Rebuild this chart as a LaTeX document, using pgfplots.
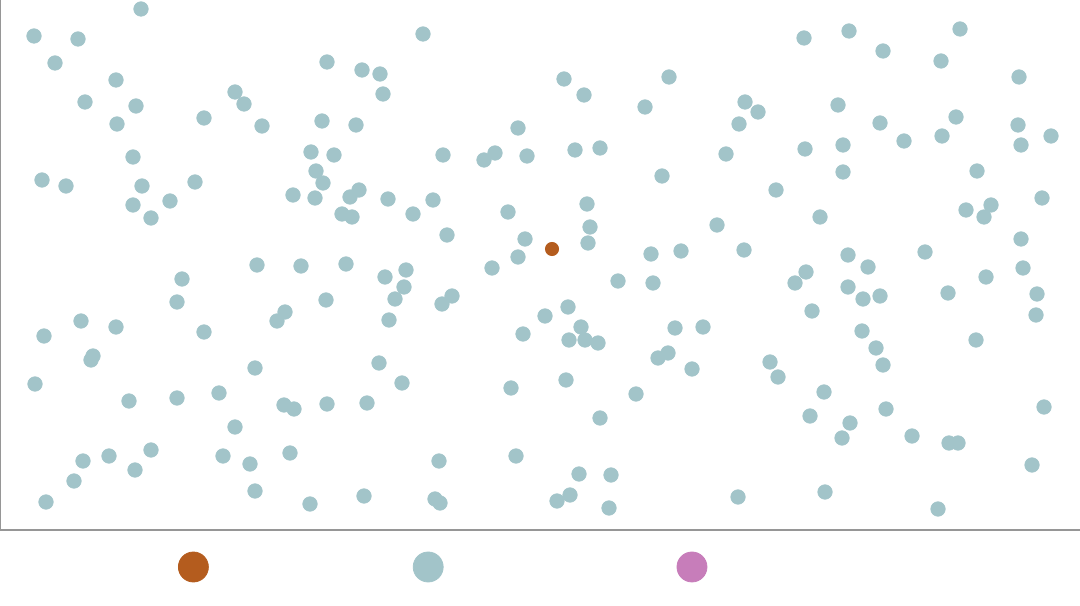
\documentclass[border=0pt]{standalone}
\usepackage{pgfplots}
\pgfplotsset{compat=1.18}
\usepackage{pgfplotstable}
\definecolor{bluec}{RGB}{162,196,201}
\definecolor{orangec}{RGB}{180,92,30}
\definecolor{pinkc}{RGB}{199,125,186}
\definecolor{axisc}{RGB}{150,150,150}
\pgfplotstableread{
x y
34 -36
78 -39
55 -63
141 -9
116 -80
85 -102
136 -106
117 -124
204 -118
235 -92
244 -104
262 -126
133 -157
42 -180
66 -186
142 -186
195 -182
133 -205
170 -201
151 -218
257 -265
44 -336
81 -321
116 -327
93 -356
91 -360
35 -384
129 -401
177 -398
219 -393
182 -279
177 -302
204 -332
255 -368
285 -312
277 -321
235 -427
223 -456
250 -464
255 -491
83 -461
109 -456
151 -450
135 -470
74 -481
46 -502
423 -34
327 -62
362 -70
380 -74
383 -94
322 -121
356 -125
518 -128
311 -152
334 -155
443 -155
484 -160
495 -153
527 -156
316 -171
323 -183
293 -195
315 -198
350 -197
359 -190
388 -199
433 -200
342 -214
352 -217
413 -214
508 -212
447 -235
525 -239
518 -257
301 -266
346 -264
406 -270
492 -268
385 -277
404 -287
395 -299
389 -320
326 -300
452 -296
442 -304
523 -334
379 -363
402 -383
511 -388
284 -405
294 -409
327 -404
367 -403
290 -453
439 -461
516 -456
310 -504
364 -496
435 -499
440 -503
564 -79
669 -77
584 -95
645 -107
745 -102
758 -112
739 -124
575 -150
600 -148
726 -154
662 -176
587 -204
776 -190
590 -227
588 -243
651 -254
681 -251
717 -225
744 -250
618 -281
653 -283
795 -283
545 -316
568 -307
581 -327
569 -340
585 -340
598 -343
675 -328
703 -327
658 -358
668 -353
692 -369
770 -362
778 -377
566 -380
636 -394
600 -418
579 -474
611 -475
570 -495
557 -501
609 -508
738 -497
849 -31
960 -29
804 -38
883 -51
941 -61
1019 -77
838 -105
880 -123
956 -117
904 -141
942 -136
1018 -125
1051 -136
1021 -145
805 -149
843 -145
843 -172
977 -171
1042 -198
966 -210
991 -205
984 -217
820 -217
1021 -239
925 -252
848 -255
868 -267
806 -272
848 -287
863 -299
880 -296
812 -311
1023 -268
986 -277
948 -293
1037 -294
1036 -315
862 -331
876 -348
883 -365
976 -340
824 -392
810 -416
850 -423
842 -438
886 -409
912 -436
949 -443
958 -443
1044 -407
1032 -465
825 -492
938 -509
}\others
\pgfplotstableread{
x y
552 -249
}\highlight
\begin{document}
\begin{tikzpicture}
\begin{axis}[
  at={(0,0)}, anchor=south west,
  width=540pt, height=265pt, scale only axis,
  xmin=0, xmax=1080, ymin=-530, ymax=0,
  axis x line=bottom, axis y line=left,
  axis line style={-, draw=axisc, line width=0.8pt},
  xtick=\empty, ytick=\empty,
  clip=false,
  legend columns=3,
  legend style={at={(0.1648,-0.0698)}, anchor=west, draw=none, fill=none,
    inner sep=0pt, outer sep=0pt, text=white,
    /tikz/every even column/.append style={column sep=10pt}},
  legend image code/.code={\fill[#1] (8.5pt,0pt) circle (7.5pt);},
]
\addplot[only marks, mark=*, color=orangec, mark size=3.3pt, mark options={draw=orangec, fill=orangec}] table {\highlight};
\addlegendentry{\makebox[88pt][l]{Selected}}
\addplot[only marks, mark=*, color=bluec, mark size=3.6pt, mark options={draw=bluec, fill=bluec}] table {\others};
\addlegendentry{\makebox[102.5pt][l]{Other}}
\addlegendimage{only marks, mark=*, color=pinkc, fill=pinkc}
\addlegendentry{\makebox[60pt][l]{Comparison}}
\end{axis}
\pgfresetboundingbox
\useasboundingbox (0,-37.5pt) rectangle (540pt,265pt);
\end{tikzpicture}
\end{document}
